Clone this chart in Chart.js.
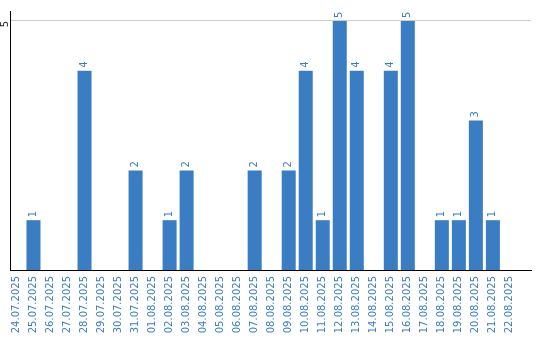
<!DOCTYPE html>
<html>
<head>
<meta charset="utf-8">
<script src="https://cdn.jsdelivr.net/npm/chart.js@4.4.1/dist/chart.umd.min.js"></script>
<style>
  html, body { margin: 0; padding: 0; background: #fff; }
  #wrap { width: 540px; height: 340px; }
</style>
</head>
<body>
<div id="wrap"><canvas id="dailyChart" width="540" height="340"></canvas></div>
<script>
var days = ['24.07.2025', '25.07.2025', '26.07.2025', '27.07.2025', '28.07.2025', '29.07.2025',
    '30.07.2025', '31.07.2025', '01.08.2025', '02.08.2025', '03.08.2025', '04.08.2025',
    '05.08.2025', '06.08.2025', '07.08.2025', '08.08.2025', '09.08.2025', '10.08.2025',
    '11.08.2025', '12.08.2025', '13.08.2025', '14.08.2025', '15.08.2025', '16.08.2025',
    '17.08.2025', '18.08.2025', '19.08.2025', '20.08.2025', '21.08.2025', '22.08.2025'];
var counts = [0, 1, 0, 0, 4, 0, 0, 2, 0, 1, 2, 0, 0, 0, 2, 0, 2, 4, 1, 5, 4, 0, 4, 5, 0, 1, 1, 3, 1, 0];
var yTicks = [5];

var blue = '#3a7dc2';

// numbers written above each bar, turned on their side
var valueLabels = {
    id: 'valueLabels',
    afterDatasetsDraw: function (chart) {
        var ctx = chart.ctx;
        var meta = chart.getDatasetMeta(0);
        ctx.save();
        ctx.font = '10px "DejaVu Sans"';
        ctx.fillStyle = blue;
        ctx.textAlign = 'left';
        ctx.textBaseline = 'middle';
        meta.data.forEach(function (bar, i) {
            if (!counts[i]) return;
            ctx.save();
            ctx.translate(bar.x, bar.y - 3);
            ctx.rotate(-Math.PI / 2);
            ctx.fillText(String(counts[i]), 0, 0);
            ctx.restore();
        });
        ctx.restore();
    }
};

document.addEventListener('DOMContentLoaded', function () {
    var ctx = document.getElementById('dailyChart').getContext('2d');
    new Chart(ctx, {
        type: 'bar',
        data: {
            datasets: [{
                data: counts.map(function (v, i) { return { x: i, y: v }; }),
                backgroundColor: blue,
                borderWidth: 0,
                barPercentage: 14 / 17,
                categoryPercentage: 1
            }]
        },
        options: {
            responsive: false,
            animation: false,
            layout: { padding: { left: 0, top: 10, right: 9, bottom: 0 } },
            plugins: { legend: { display: false }, tooltip: { enabled: false } },
            scales: {
                x: {
                    type: 'linear',
                    offset: false,
                    min: -0.38,
                    max: 30.24,
                    grid: { display: false, drawTicks: false, offset: false },
                    border: { display: true, color: '#000', width: 1 },
                    afterFit: function (scale) { scale.height = 70; },
                    afterBuildTicks: function (scale) {
                        scale.ticks = days.map(function (d, i) { return { value: i }; });
                    },
                    ticks: {
                        autoSkip: false,
                        minRotation: 90,
                        maxRotation: 90,
                        padding: 6,
                        color: blue,
                        font: { family: 'DejaVu Sans', size: 10 },
                        callback: function (v) { return days[v]; }
                    }
                },
                y: {
                    min: 0,
                    max: 5.2,
                    grid: { color: '#cccccc', drawTicks: false },
                    border: { display: true, color: '#000', width: 1 },
                    afterFit: function (scale) { scale.width = 10; },
                    afterBuildTicks: function (scale) {
                        scale.ticks = yTicks.map(function (v) { return { value: v }; });
                    },
                    ticks: {
                        minRotation: 90,
                        maxRotation: 90,
                        padding: 5,
                        color: '#222',
                        font: { family: 'DejaVu Sans', size: 10 }
                    }
                }
            }
        },
        plugins: [valueLabels]
    });
});
</script>
</body>
</html>
